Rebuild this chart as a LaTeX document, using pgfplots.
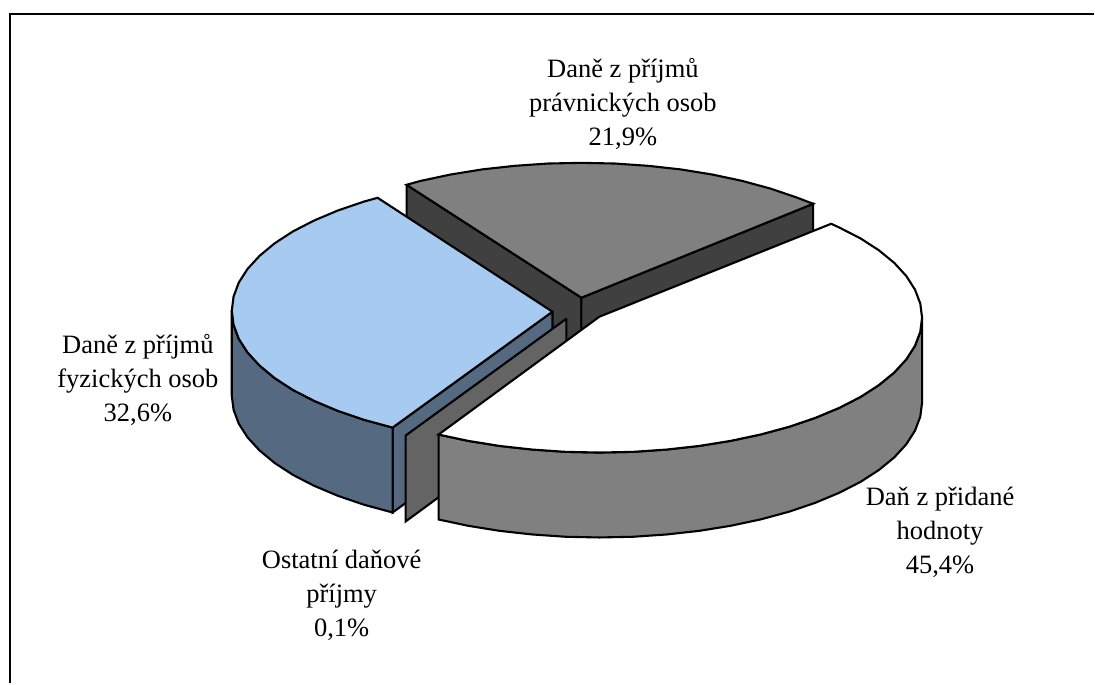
\documentclass[border=0pt]{standalone}
\usepackage{fontspec}
\setmainfont{Liberation Serif}
\usepackage{pgfplots}
\pgfplotsset{compat=1.18}
\definecolor{bluetop}{HTML}{A6CAF0}
\definecolor{blueside}{HTML}{556980}
\definecolor{midgray}{HTML}{808080}
\definecolor{darkwall}{HTML}{404040}
\definecolor{sliver}{HTML}{646464}
\tikzset{slice/.style={draw=black,line width=2.1pt,line join=miter,line cap=round}}
\newcommand{\lbl}[3]{\node[align=center,font=\fontsize{26.5}{34}\selectfont,inner sep=0pt,anchor=center] at (axis cs:#1,#2) {#3};}
\begin{document}
\begin{tikzpicture}
\begin{axis}[
  scale only axis,width=1095pt,height=684pt,
  xmin=0,xmax=1095,ymin=0,ymax=684,y dir=reverse,
  hide axis,clip=false]
\path (axis cs:0,0) rectangle (axis cs:1095,684);
% frame
\addplot[black,line width=2.2pt,mark=none,line cap=butt] coordinates {(10,684)(10,14)(1095,14)};
% Dane z prijmu pravnickych osob: walls
\addplot[slice,fill=darkwall,mark=none] coordinates {(407,185)(582,298)(582,383)(407,270)(407,185)};
\addplot[slice,fill=darkwall,mark=none] coordinates {(582,298)(814,204)(814,289)(582,383)(582,298)};
% top
\addplot[slice,fill=midgray,mark=none] coordinates {(582,298)(814,204)(797.5,197.7)(771.3,188.8)(743,181.1)(713,174.7)(681.5,169.6)(648.9,166)(615.6,163.7)(582,163)(548.4,163.7)(515.1,166)(482.5,169.6)(451,174.7)(421,181.1)(407,185)(582,298)};
% Dane z prijmu fyzickych osob: inner wall
\addplot[slice,fill=blueside,mark=none] coordinates {(553,312)(393,428)(393,513)(553,397)(553,312)};
% outer wall
\addplot[slice,fill=blueside,mark=none] coordinates {(232,311)(233.8,325.1)(239,339.1)(247.7,352.7)(259.8,365.9)(275,378.5)(293.3,390.4)(314.5,401.3)(338.2,411.3)(364.3,420.2)(393,428)(393,513)(364.3,505.2)(338.2,496.3)(314.5,486.3)(293.3,475.4)(275,463.5)(259.8,450.9)(247.7,437.7)(239,424.1)(233.8,410.1)(232,396)(232,311)};
% top
\addplot[slice,fill=bluetop,mark=none] coordinates {(553,312)(378,198)(364.3,201.8)(338.2,210.7)(314.5,220.7)(293.3,231.6)(275,243.5)(259.8,256.1)(247.7,269.3)(239,282.9)(233.8,296.9)(232,311)(233.8,325.1)(239,339.1)(247.7,352.7)(259.8,365.9)(275,378.5)(293.3,390.4)(314.5,401.3)(338.2,411.3)(364.3,420.2)(393,428)(553,312)};
% Ostatni danove prijmy
\addplot[slice,fill=sliver,mark=none] coordinates {(567,319)(406,436)(406,522)(567,404)(567,319)};
% Dan z pridane hodnoty: wall
\addplot[slice,fill=midgray,mark=none] coordinates {(923,318)(923,403)(921.2,417.1)(915.9,431.1)(907.2,444.7)(895.1,457.9)(879.7,470.5)(861.3,482.4)(840,493.3)(816.1,503.3)(789.9,512.2)(761.5,519.9)(731.4,526.3)(699.8,531.4)(667.2,535)(633.8,537.3)(600,538)(566.2,537.3)(532.8,535)(500.2,531.4)(468.6,526.3)(439,520)(439,435)(468.6,441.3)(500.2,446.4)(532.8,450)(566.2,452.3)(600,453)(633.8,452.3)(667.2,450)(699.8,446.4)(731.4,441.3)(761.5,434.9)(789.9,427.2)(816.1,418.3)(840,408.3)(861.3,397.4)(879.7,385.5)(895.1,372.9)(907.2,359.7)(915.9,346.1)(921.2,332.1)(923,318)};
% top
\addplot[slice,fill=white,mark=none] coordinates {(600,317)(832,224)(840,227.7)(861.3,238.6)(879.7,250.5)(895.1,263.1)(907.2,276.3)(915.9,289.9)(921.2,303.9)(923,318)(921.2,332.1)(915.9,346.1)(907.2,359.7)(895.1,372.9)(879.7,385.5)(861.3,397.4)(840,408.3)(816.1,418.3)(789.9,427.2)(761.5,434.9)(731.4,441.3)(699.8,446.4)(667.2,450)(633.8,452.3)(600,453)(566.2,452.3)(532.8,450)(500.2,446.4)(468.6,441.3)(439,435)(600,317)};
% labels
\lbl{623.5}{104}{Daně z příjmů\\právnických osob\\21,9\%}
\lbl{138}{380}{Daně z příjmů\\fyzických osob\\32,6\%}
\lbl{941}{533}{Daň z přidané\\hodnoty\\45,4\%}
\lbl{342}{596}{Ostatní daňové\\příjmy\\0,1\%}
\end{axis}
\end{tikzpicture}
\end{document}
